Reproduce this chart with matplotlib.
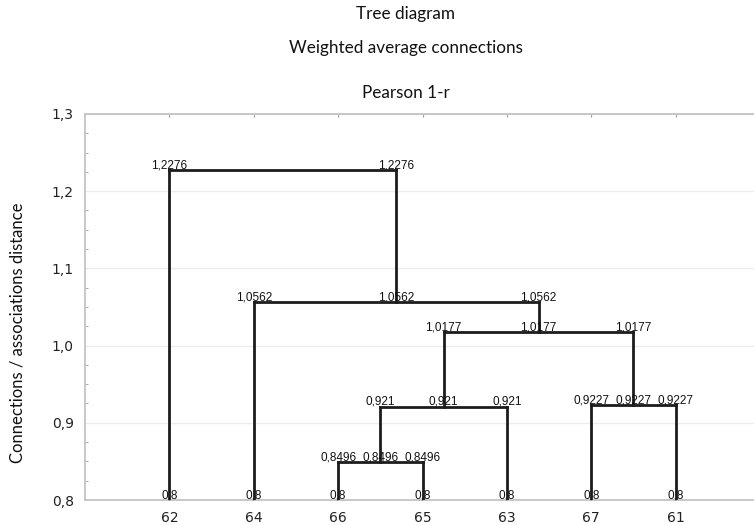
import matplotlib
matplotlib.use("Agg")
import matplotlib.pyplot as plt
from matplotlib.ticker import MultipleLocator, FuncFormatter

# leaves in dendrogram order
leaves = ['62', '64', '66', '65', '63', '67', '61']
leaf_height = 0.8
leaf_label = '0,8'

# merges: left child, right child, name, height, label as printed
merge_left = ['66', 'A', '67', 'B', '64', '62']
merge_right = ['65', '63', '61', 'C', 'D', 'E']
merge_names = ['A', 'B', 'C', 'D', 'E', 'F']
merge_heights = [0.8496, 0.921, 0.9227, 1.0177, 1.0562, 1.2276]
merge_labels = ['0,8496', '0,921', '0,9227', '1,0177', '1,0562', '1,2276']

titles = ['Tree diagram', 'Weighted average connections', 'Pearson 1-r']
ylabel = 'Connections / associations distance'

W, H = 754, 525
fig = plt.figure(figsize=(W / 100, H / 100), dpi=100)
ax = fig.add_axes([85 / W, 1 - 500 / H, 675 / W, 386 / H])

line_col = '#1c1c1c'
spine_col = '#c4c4c4'


def put_label(x, y, s):
    ax.annotate(s, (x, y), xytext=(0, 1.2), textcoords='offset points',
                ha='center', va='baseline', fontsize=8.5,
                family='Liberation Sans', color='#111111', zorder=4)


# positions and heights of every node
xpos = {name: i + 1 for i, name in enumerate(leaves)}
ypos = {name: leaf_height for name in leaves}
labels = {name: leaf_label for name in leaves}
for name, l, r, h, lab in zip(merge_names, merge_left, merge_right,
                              merge_heights, merge_labels):
    xpos[name] = (xpos[l] + xpos[r]) / 2
    ypos[name] = h
    labels[name] = lab

for name, l, r, h, lab in zip(merge_names, merge_left, merge_right,
                              merge_heights, merge_labels):
    for child in (l, r):
        ax.plot([xpos[child], xpos[child]], [ypos[child], h],
                color=line_col, lw=2.0, solid_capstyle='projecting', zorder=3)
        # label at both ends of each vertical
        put_label(xpos[child], h, lab)
        put_label(xpos[child], ypos[child], labels[child])
    ax.plot([xpos[l], xpos[r]], [h, h], color=line_col, lw=2.0,
            solid_capstyle='projecting', zorder=3)

ax.set_xlim(0, 8)
ax.set_ylim(0.8, 1.3)
ax.set_xticks(range(1, len(leaves) + 1))
ax.set_xticklabels(leaves)
ax.yaxis.set_major_locator(MultipleLocator(0.1))
ax.yaxis.set_minor_locator(MultipleLocator(0.025))
ax.yaxis.set_major_formatter(FuncFormatter(lambda v, p: f'{v:.1f}'.replace('.', ',')))

ax.grid(axis='y', which='major', color='#ededed', lw=1.0, zorder=0)
ax.set_axisbelow(True)

for s in ['left', 'top', 'bottom']:
    ax.spines[s].set_color(spine_col)
    ax.spines[s].set_linewidth(1.3)
ax.spines['right'].set_visible(False)

ax.tick_params(axis='y', which='both', direction='in', length=2.5, color='#999999',
               labelsize=10, pad=8)
ax.tick_params(axis='y', which='major', length=0)
ax.tick_params(axis='x', direction='in', length=2.5, color='#999999', top=True,
               labelsize=10, pad=8)
for t in ax.get_xticklabels() + ax.get_yticklabels():
    t.set_family('DejaVu Sans')
    t.set_color('#222222')

title_y = [19, 53, 98]
for t, y in zip(titles, title_y):
    fig.text(405.5 / W, 1 - y / H, t, ha='center', va='baseline',
             fontsize=12.3, family='Lato', color='#111111')

fig.text(18 / W, 1 - 333 / H, ylabel, rotation=90, ha='center', va='center',
         fontsize=12, family='Lato', color='#111111')

fig.savefig('out.png', dpi=100)
